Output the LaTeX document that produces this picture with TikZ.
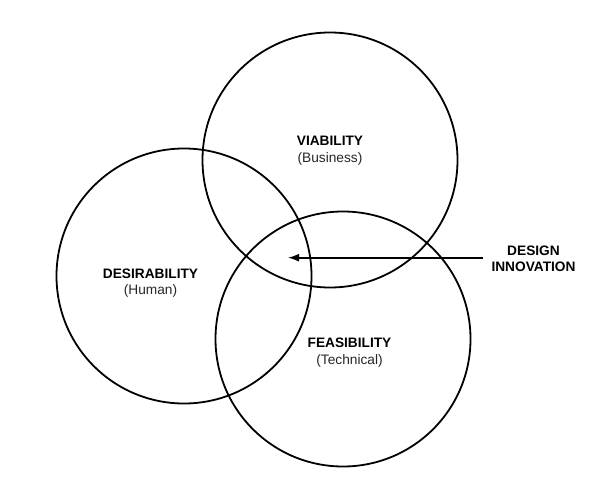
\documentclass[tikz,border=0pt]{standalone}
\usepackage{fontspec}
\setmainfont{Liberation Sans}
\usepackage{tikz}
\usetikzlibrary{arrows.meta}
\usetikzlibrary{positioning}
\tikzset{venn/.style = {circle, draw, line width = 1.8pt, minimum size = 255pt, inner sep = 0}}
\tikzset{vennlabel/.style = {align = center, inner sep = 0, font = \fontsize{13.7}{16.5}\selectfont}}
\tikzset{innovarrow/.style = {-{Latex[length = 11pt, width = 8pt]}, line width = 1.6pt}}
\newcommand{\sub}[1]{{\color{black!85}#1}}

\begin{document}
\begin{tikzpicture}[x = 1pt, y = -1pt]
    \useasboundingbox (0, 0) rectangle (615, 497);

    \node [venn] (viab) at (330, 160) {};
    \node [venn] (desi) at (184, 276) {};
    \node [venn] (feas) at (343, 339) {};

    \node [vennlabel] (viablabel) at (330, 150.5) {\textbf{VIABILITY}\\ \sub{(Business)}};
    \node [vennlabel] (desilabel) at (150.5, 283) {\textbf{DESIRABILITY}\\ \sub{(Human)}};
    \node [vennlabel] (feaslabel) at (349.5, 352.5) {\textbf{FEASIBILITY}\\ \sub{(Technical)}};
    \node [vennlabel] (innov) at (533.5, 259) {\textbf{DESIGN}\\ \textbf{INNOVATION}};

    \coordinate (tip) at (288, 257.7);
    \draw [innovarrow] ([xshift = -8pt]innov.west |- tip) -- (tip);
\end{tikzpicture}
\end{document}
